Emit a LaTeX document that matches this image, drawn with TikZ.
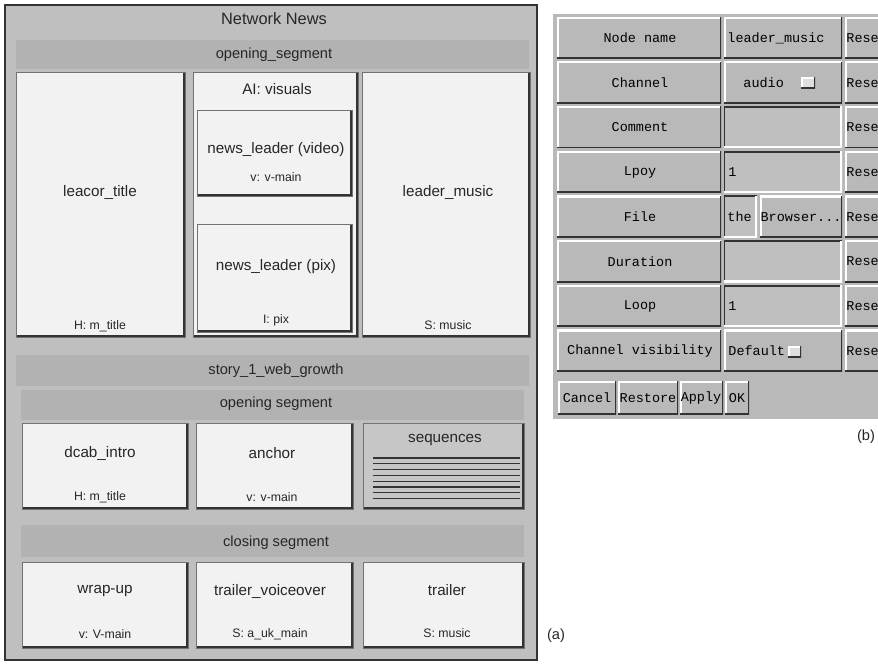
\documentclass[tikz,border=0pt]{standalone}
\usepackage{fontspec}
\setmainfont{Liberation Sans}
\newfontfamily\monofont{Liberation Mono}
\usetikzlibrary{positioning}

\tikzset{
  frame/.style={fill=gray!50, draw=black!80, line width=1.6pt},
  hdr/.style={fill=gray!60, draw=none},
  pane/.style={fill=gray!10, draw=black!55, line width=0.6pt,
    path picture={\draw[black!80,line width=3pt] (path picture bounding box.north east) -- (path picture bounding box.south east) -- (path picture bounding box.south west);}},
  raised/.style={fill=gray!55, draw=none,
    path picture={\draw[white,line width=3pt] (path picture bounding box.south west) -- (path picture bounding box.north west) -- (path picture bounding box.north east);
      \draw[black!80,line width=2.4pt] (path picture bounding box.north east) -- (path picture bounding box.south east) -- (path picture bounding box.south west);}},
  sunken/.style={fill=gray!50, draw=none,
    path picture={\draw[black!80,line width=2.4pt] (path picture bounding box.south west) -- (path picture bounding box.north west) -- (path picture bounding box.north east);
      \draw[white,line width=3pt] (path picture bounding box.north east) -- (path picture bounding box.south east) -- (path picture bounding box.south west);}},
  lbl/.style={font=\fontsize{13}{15}\selectfont, text=black!85, inner sep=1pt},
  sublbl/.style={font=\fontsize{10.5}{12}\selectfont, text=black!85, inner sep=1pt},
  hlbl/.style={font=\fontsize{12.5}{14}\selectfont, text=black!85, inner sep=1pt},
  tt/.style={font=\monofont\fontsize{11.5}{13}\selectfont, text=black, inner sep=1pt},
}

\begin{document}
\begin{tikzpicture}[x=0.03cm,y=-0.03cm]
  \useasboundingbox[fill=white] (0,0) rectangle (878,663);

  % (a) presentation structure
  \draw[frame] (5,5) rectangle (537,660);
  \node[hlbl,font=\fontsize{14}{16}\selectfont] (net) at (274,19) {Network News};

  \draw[hdr] (16,40) rectangle (529,69);
  \node[hlbl] (open1) at (274,55) {opening\_segment};
  \draw[pane] (16,72) rectangle (185,337);
  \draw[pane] (193,72) rectangle (358,337);
  \draw[pane] (197,110) rectangle (352,196);
  \draw[pane] (197,224) rectangle (352,332);
  \draw[pane] (362,72) rectangle (530,337);
  \node[lbl] (title) at (100,192) {leacor\_title};
  \node[sublbl] (titlech) at (100,326) {H: m\_title};
  \node[lbl] (vis) at (277,89) {AI: visuals};
  \node[lbl] (video) at (276,150) {news\_leader (video)};
  \node[sublbl] (videoch) at (276,177) {v: v-main};
  \node[lbl] (pix) at (276,267) {news\_leader (pix)};
  \node[sublbl] (pixch) at (276,320) {I: pix};
  \node[lbl] (music) at (448,192) {leader\_music};
  \node[sublbl] (musicch) at (448,325) {S: music};

  \draw[hdr] (16,355) rectangle (529,386);
  \node[hlbl] (story) at (276,371) {story\_1\_web\_growth};

  \draw[hdr] (21,390) rectangle (524,420);
  \node[hlbl] (open2) at (276,404) {opening segment};
  \draw[pane] (22,423) rectangle (188,509);
  \draw[pane] (196,423) rectangle (353,509);
  \draw[pane,fill=gray!45] (363,423) rectangle (524,509);
  \node[lbl] (intro) at (100,453) {dcab\_intro};
  \node[sublbl] (introch) at (100,497) {H: m\_title};
  \node[lbl] (anchor) at (272,453) {anchor};
  \node[sublbl] (anchorch) at (272,497) {v: v-main};
  \node[lbl] (seq) at (445,440) {sequences};
  \foreach \k in {0,...,7}
    \draw[black!80,line width=0.9pt] (373,458+\k*5.8) -- (520,458+\k*5.8);

  \draw[hdr] (21,525) rectangle (524,557);
  \node[hlbl] (close) at (276,543) {closing segment};
  \draw[pane] (22,562) rectangle (188,648);
  \draw[pane] (196,562) rectangle (353,648);
  \draw[pane] (363,562) rectangle (524,648);
  \node[lbl] (wrap) at (105,591) {wrap-up};
  \node[sublbl] (wrapch) at (105,634) {v: V-main};
  \node[lbl] (voice) at (270,591) {trailer\_voiceover};
  \node[sublbl] (voicech) at (270,634) {S: a\_uk\_main};
  \node[lbl] (trailer) at (447,590) {trailer};
  \node[sublbl] (trailerch) at (447,633) {S: music};

  \node[hlbl] (capa) at (556,636) {(a)};

  % (b) attribute editor
  \begin{scope}
    \clip (550,0) rectangle (878,663);
    \fill[gray!55] (553,14) rectangle (900,419);
    \foreach \lab [count=\i from 0] in {Node name,Channel,Comment,Lpoy,File,Duration,Loop,Channel visibility} {
      \pgfmathsetmacro\t{17+44.7*\i}
      \pgfmathsetmacro\c{\t+21}
      \draw[raised] (557,\t) rectangle (721,\t+41.5);
      \node[tt] (lab\i) at (640,\c) {\lab};
      \draw[raised] (845,\t) rectangle (905,\t+41.5);
      \node[tt,anchor=west] (reset\i) at (845,\c) {Rese};
    }
    \draw[raised] (724,17) rectangle (842,58.5);
    \node[tt,anchor=west] (val0) at (726,38) {leader\_music};
    \draw[raised] (724,61.7) rectangle (842,103.2);
    \node[tt,anchor=west] (val1) at (742,83) {audio};
    \draw[raised,fill=gray!25] (801,77) rectangle (815,88);
    \draw[sunken] (724,106.4) rectangle (842,147.9);
    \draw[sunken] (724,151.1) rectangle (842,192.6);
    \node[tt,anchor=west] (val3) at (727,172) {1};
    \draw[sunken] (724,195.8) rectangle (757,237.3);
    \node[tt,anchor=west] (val4) at (726,217) {the};
    \draw[raised] (760,195.8) rectangle (842,237.3);
    \node[tt] (browse) at (801,217) {Browser...};
    \draw[sunken] (724,240.5) rectangle (842,282);
    \draw[sunken] (724,285.2) rectangle (842,326.7);
    \node[tt,anchor=west] (val6) at (727,306) {1};
    \draw[raised] (724,329.9) rectangle (842,371.4);
    \node[tt,anchor=west] (val7) at (727,351) {Default};
    \draw[raised,fill=gray!25] (788,346) rectangle (801,357);

    \draw[raised] (558,381) rectangle (616,414);
    \node[tt] (cancel) at (587,398) {Cancel};
    \draw[raised] (618,381) rectangle (678,414);
    \node[tt] (restore) at (648,398) {Restore};
    \draw[raised] (680,381) rectangle (723,414);
    \node[tt] (apply) at (701,398) {Apply};
    \draw[raised] (725,381) rectangle (749,414);
    \node[tt] (ok) at (737,398) {OK};
  \end{scope}
  \node[hlbl] (capb) at (866,437) {(b)};
\end{tikzpicture}
\end{document}
